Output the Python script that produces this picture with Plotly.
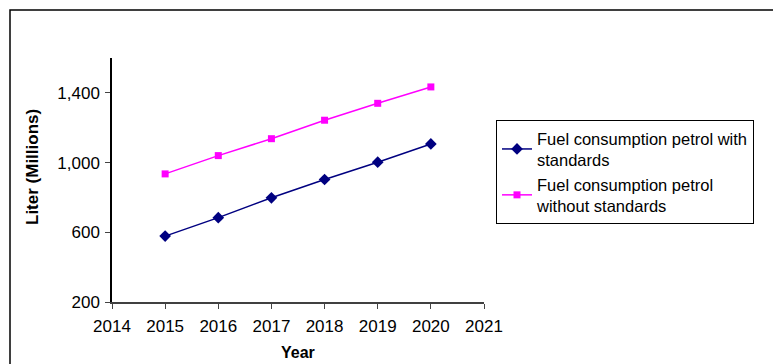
import plotly.graph_objects as go

# Fuel consumption projections (million liters)
years = [2015, 2016, 2017, 2018, 2019, 2020]
with_standards = [578, 684, 798, 903, 1002, 1107]
without_standards = [935, 1040, 1137, 1243, 1340, 1434]

x_ticks = [2014, 2015, 2016, 2017, 2018, 2019, 2020, 2021]
y_ticks = [200, 600, 1000, 1400]

W, H = 773, 364
L, R, T, B = 112, 484, 58, 302  # plot area in pixels


def px_x(p):
    return (p - L) / (R - L)


def px_y(p):
    return (B - p) / (B - T)


font = "Liberation Sans, Arial, sans-serif"

fig = go.Figure()
fig.add_trace(go.Scatter(
    x=years, y=with_standards, mode="lines+markers",
    name="Fuel consumption petrol with<br>standards",
    line=dict(color="#000080", width=1.5),
    marker=dict(symbol="diamond", size=9, color="#000080"),
))
fig.add_trace(go.Scatter(
    x=years, y=without_standards, mode="lines+markers",
    name="Fuel consumption petrol<br>without standards",
    line=dict(color="#FF00FF", width=1.5),
    marker=dict(symbol="square", size=7, color="#FF00FF"),
))

fig.update_layout(
    width=W, height=H,
    margin=dict(l=L, r=W - R, t=T, b=H - B, pad=0),
    paper_bgcolor="white", plot_bgcolor="white",
    font=dict(family=font, size=16, color="black"),
    showlegend=True,
    legend=dict(
        x=px_x(496), y=px_y(120), xanchor="left", yanchor="top",
        bordercolor="black", borderwidth=1, bgcolor="white",
        font=dict(size=16.5), tracegroupgap=4,
    ),
    xaxis=dict(
        range=[2014, 2021], tickvals=x_ticks, ticks="outside", ticklen=5,
        showline=True, linecolor="#404040", linewidth=1.5, showgrid=False,
        zeroline=False, tickfont=dict(size=17), ticklabelstandoff=3,
    ),
    yaxis=dict(
        range=[200, 1600], tickvals=y_ticks, tickformat=",", ticks="outside",
        ticklen=5, showline=True, linecolor="black", linewidth=1.5,
        showgrid=False, zeroline=False, tickfont=dict(size=17),
        ticklabelstandoff=2,
    ),
    shapes=[dict(
        type="rect", xref="paper", yref="paper",
        x0=px_x(10), x1=px_x(790), y0=px_y(380), y1=px_y(10),
        line=dict(color="black", width=1.5), fillcolor="rgba(0,0,0,0)",
        layer="below",
    )],
    annotations=[
        dict(text="<b>Liter (Millions)</b>", xref="paper", yref="paper",
             x=px_x(32), y=px_y(167), textangle=-90, showarrow=False,
             font=dict(size=17), xanchor="center", yanchor="middle"),
        dict(text="<b>Year</b>", xref="paper", yref="paper",
             x=px_x(298), y=px_y(352), showarrow=False,
             font=dict(size=16), xanchor="center", yanchor="middle"),
    ],
)

fig.write_html("out.html")
